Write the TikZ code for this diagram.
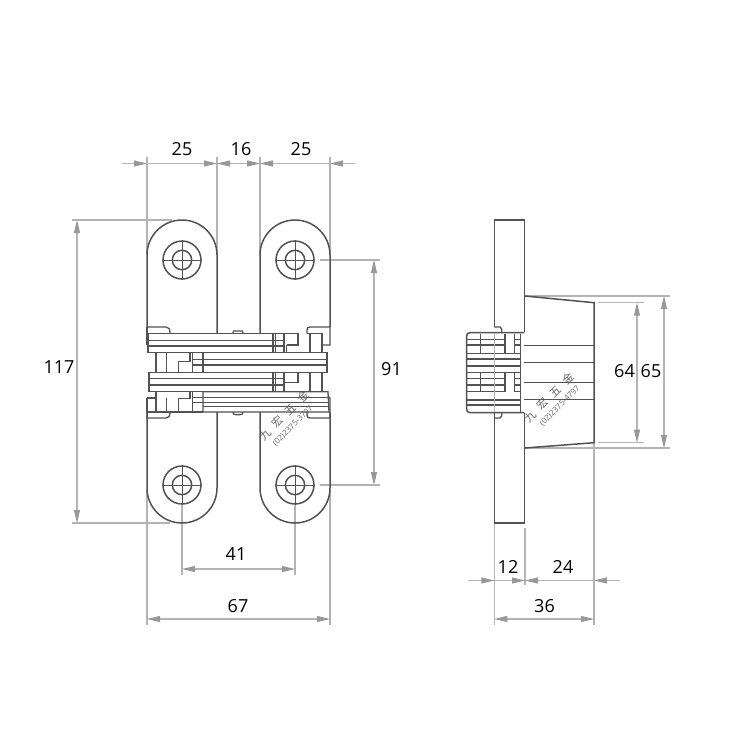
\documentclass[tikz,border=0pt]{standalone}
\usepackage{fontspec}
\setmainfont{Open Sans}
\newfontfamily\cjk{Noto Sans CJK SC}
\usetikzlibrary{arrows.meta}
\definecolor{dimc}{HTML}{B4B4B4}
\definecolor{tipc}{HTML}{989898}
\definecolor{inkc}{HTML}{525252}
\tikzset{
  ext/.style={draw=dimc,line width=1.1pt},
  dimin/.style={draw=dimc,line width=1.1pt,{Stealth[length=13pt,width=6pt,inset=0pt,color=tipc]}-{Stealth[length=13pt,width=6pt,inset=0pt,color=tipc]}},
  tipr/.style={draw=dimc,line width=1.1pt,-{Stealth[length=13pt,width=6pt,inset=0pt,color=tipc]}},
  ink/.style={draw=inkc,line width=1.3pt},
  thick ink/.style={draw=inkc,line width=1.5pt},
  dimtext/.style={font=\fontsize{18}{20}\selectfont,text=black,inner sep=0pt},
  wm/.style={text=black!60,inner sep=0pt,rotate=45}
}
\newcommand{\holemark}[2]{%
  \draw[ink,line width=1.5pt] (#1,#2) circle (19);
  \draw[ink,line width=1.5pt] (#1,#2) circle (9.7);
  \draw[ink,line width=0.9pt] (#1-20,#2) -- (#1+20,#2) (#1,#2-20) -- (#1,#2+20);
}
\begin{document}
\begin{tikzpicture}[x=1pt,y=-1pt]
\useasboundingbox[fill=white] (0,0) rectangle (750,750);
% ---------- extension lines (front)
\draw[ext] (147,157) -- (147,255) (217,157) -- (217,255) (260,157) -- (260,255) (330,157) -- (330,255);
\draw[ext] (72,220) -- (172,220) (72,523) -- (170,523);
\draw[ext] (320,260) -- (380,260) (320,485) -- (380,485);
\draw[ext] (182,505) -- (182,575) (295,505) -- (295,575);
\draw[ext] (147,490) -- (147,625) (330,490) -- (330,625);
% ---------- dimensions (front)
\draw[dimc,line width=1.1pt] (122,163.5) -- (355,163.5);
\draw[tipr] (122,163.5) -- (147,163.5);
\draw[tipr] (191,163.5) -- (217,163.5);
\draw[tipr] (240,163.5) -- (260,163.5);
\draw[tipr] (355,163.5) -- (330,163.5);
\draw[tipr] (237,163.5) -- (217,163.5);
\draw[tipr] (285,163.5) -- (260,163.5);
\draw[dimin] (77,220) -- (77,523);
\draw[dimin] (374,260) -- (374,485);
\draw[dimin] (182,569) -- (295,569);
\draw[dimin] (147,619) -- (330,619);
\node[dimtext] at (182,149.5) {25};
\node[dimtext] at (241,149.5) {16};
\node[dimtext] at (301,149.5) {25};
\node[dimtext] at (59,367) {117};
\node[dimtext] at (391.5,369) {91};
\node[dimtext] at (236,554) {41};
\node[dimtext] at (238,606) {67};
% ---------- plates
\draw[thick ink] (147,327) -- (147,255) arc[start angle=180,end angle=360,radius=35] -- (217,333);
\draw[thick ink] (260,333) -- (260,255) arc[start angle=180,end angle=360,radius=35] -- (330,327);
\draw[thick ink] (147,412) -- (147,488) arc[start angle=180,end angle=0,radius=35] -- (217,412);
\draw[thick ink] (260,412) -- (260,488) arc[start angle=180,end angle=0,radius=35] -- (330,412);
\holemark{182}{260}
\holemark{295}{260}
\holemark{182}{485}
\holemark{295}{485}
% ---------- knuckle, upper left/right
\draw[ink] (147,327) -- (166,327) .. controls (169,327) and (170,329) .. (170,333.3);
\draw[ink] (147,327) -- (147,345);
\draw[ink] (307,333.3) -- (307,330) .. controls (307,328) and (308,327) .. (310,327) -- (330,327) -- (330,345) -- (322,345);
% ---------- row 1
\draw[ink] (148,333.3) rectangle (273,352.7);
\draw[ink] (148,340.5) -- (273,340.5) (148,346) -- (273,346);
\draw[ink] (273,333.3) -- (298,333.3) (273,340.5) -- (284,340.5) (273,346) -- (284,346) (273,352.7) -- (327,352.7);
\draw[thick ink] (273,333.3) -- (273,352.7) (275.5,333.3) -- (275.5,352.7) (284,333.3) -- (284,352.7) (286.5,345) -- (286.5,352.7);
\draw[ink] (286.5,345) -- (298,345) -- (298,333.3);
\draw[ink] (310,333.3) -- (310,352.7) (322,333.3) -- (322,352.7) (307,333.3) -- (322,333.3);
% ---------- row 2
\draw[ink] (203,352.7) -- (327,352.7) -- (327,372.7) -- (203,372.7) -- cycle;
\draw[ink] (203,359.3) -- (327,359.3) (203,365) -- (327,365);
\draw[ink] (192.7,352.7) -- (203,352.7) (192.7,359.3) -- (203,359.3) (192.7,365) -- (203,365);
\draw[thick ink] (156,352.7) -- (156,372.7) (166.7,352.7) -- (166.7,372.7);
\draw[ink] (178.3,372.7) -- (178.3,361.7) -- (190,361.7) -- (190,353) ;
\draw[ink] (192.7,352.7) -- (192.7,372.7);
\draw[ink] (178,372.7) -- (203,372.7);
% ---------- row 3
\draw[ink] (149,372.7) rectangle (273,391.7);
\draw[ink] (149,378.3) -- (273,378.3) (149,385) -- (273,385);
\draw[ink] (273,378.3) -- (284,378.3) (273,385) -- (284,385) (273,391.7) -- (328,391.7);
\draw[thick ink] (273,372.7) -- (273,391.7) (275.5,372.7) -- (275.5,391.7) (284,372.7) -- (284,391.7);
\draw[ink] (284,382.7) -- (298,382.7) -- (298,372.7);
\draw[ink] (310,372.7) -- (310,391.7) (322,372.7) -- (322,391.7);
% ---------- row 4
\draw[ink] (203,391.7) -- (328,391.7) -- (329,412) -- (203,412) -- cycle;
\draw[ink] (203,397.3) -- (328,397.3) (203,402.7) -- (329,402.7) (203,406.7) -- (329,406.7);
\draw[ink] (192.7,391.7) -- (203,391.7) (192.7,397.3) -- (203,397.3) (192.7,402.7) -- (203,402.7);
\draw[ink] (147,412) -- (203,412) (147,398) -- (156,398) (147,398) -- (147,412);
\draw[thick ink] (156,391.7) -- (156,412) (166.7,398) -- (166.7,412);
\draw[ink] (178.3,412) -- (178.3,398.3) -- (190,398.3) -- (190,392);
\draw[ink] (192.7,391.7) -- (192.7,412);
% knuckle, lower
\draw[ink] (147,412) -- (147,418) -- (166,418) .. controls (169,418) and (170,416) .. (170,412);
\draw[ink] (307,412) -- (307,415) .. controls (307,417) and (308,418) .. (310,418) -- (330,418) -- (330,398) -- (328,396);
% small pins
\draw[ink] (233,333) -- (233.5,331) -- (242.5,331) -- (243,333);
\draw[ink] (233,412) -- (233.5,414) .. controls (235,415) and (241,415) .. (242.5,414) -- (243,412);
% ---------- side view: extension lines
\draw[ext] (525,296) -- (670,296) (525,448) -- (670,448);
\draw[ext] (598,302.7) -- (644,302.7) (598,442.7) -- (644,442.7);
\draw[ext] (494.3,524) -- (494.3,625) (525,528) -- (525,585) (594,443) -- (594,625);
% ---------- side view: flange
\draw[thick ink] (494.3,327) -- (494.3,220) -- (524.3,220) -- (524.3,331.7);
\draw[thick ink] (494.3,413) -- (494.3,523) -- (524.3,523) -- (524.3,413);
\draw[ink] (494.3,327) -- (500,327) -- (501.7,329) -- (501.7,332);
\draw[ink] (494.3,418) -- (500,418) -- (501.7,416) -- (501.7,413);
% body
\draw[thick ink] (525,296) -- (594,302.7) -- (594,442.7) -- (525,448);
\draw[thick ink] (524.3,345.7) -- (594,345.7) (524.3,362.5) -- (594,362.5) (524.3,382.3) -- (594,382.3) (524.3,399.3) -- (594,399.3);
% knuckle, side
\draw[thick ink] (524.3,332.7) -- (470,332.7) .. controls (467.5,332.7) and (466.7,334) .. (466.7,336) -- (466.7,409) .. controls (466.7,411) and (467.5,412.7) .. (470,412.7) -- (524.3,412.7);
\draw[ink,line width=1.1pt] (467,339.3) -- (505,339.3) (515,339.3) -- (521,339.3)
  (467,345) -- (505,345) (515,345) -- (521,345)
  (467,353.3) -- (521,353.3)
  (467,359) -- (521,359)
  (467,366) -- (521,366)
  (467,372.7) -- (521,372.7)
  (467,378.3) -- (505,378.3) (515,378.3) -- (521,378.3)
  (467,385) -- (505,385) (515,385) -- (521,385)
  (467,391.7) -- (505,391.7) (515,391.7) -- (521,391.7)
  (467,400) -- (521,400)
  (467,405) -- (521,405);
\draw[thick ink] (480.7,333.5) -- (480.7,353) (505,333.5) -- (505,353) (514.3,333.5) -- (514.3,353) (520.7,333.5) -- (520.7,412);
\draw[thick ink] (480.7,372.7) -- (480.7,392) (505,372.7) -- (505,392) (514.3,372.7) -- (514.3,392);
\draw[dimc,line width=1pt] (494.3,333) -- (494.3,412);
% ---------- side view: dimensions
\draw[dimin] (637,302.7) -- (637,442.7);
\draw[dimin] (664,296) -- (664,448);
\draw[dimc,line width=1.1pt] (468,580.5) -- (620,580.5);
\draw[tipr] (480,580.5) -- (494.3,580.5);
\draw[tipr] (510,580.5) -- (525,580.5);
\draw[tipr] (539,580.5) -- (525,580.5);
\draw[tipr] (608,580.5) -- (594,580.5);
\draw[dimin] (494.3,619) -- (594,619);
\node[dimtext] at (624.5,371) {64};
\node[dimtext] at (651,371) {65};
\node[dimtext] at (508,566.5) {12};
\node[dimtext] at (563,566.5) {24};
\node[dimtext] at (544.5,606) {36};
% ---------- watermarks
\node[wm,font=\cjk\fontsize{11}{12}\selectfont] at (284,415.5) {九\hspace{7pt}宏\hspace{7pt}五\hspace{7pt}金};
\node[wm,font=\fontsize{8}{9}\selectfont] at (293,426) {(02)2375-3797};
\node[wm,font=\cjk\fontsize{11}{12}\selectfont] at (549,397.5) {九\hspace{7pt}宏\hspace{7pt}五\hspace{7pt}金};
\node[wm,font=\fontsize{8}{9}\selectfont] at (560,406) {(02)2375-4797};
\end{tikzpicture}
\end{document}
